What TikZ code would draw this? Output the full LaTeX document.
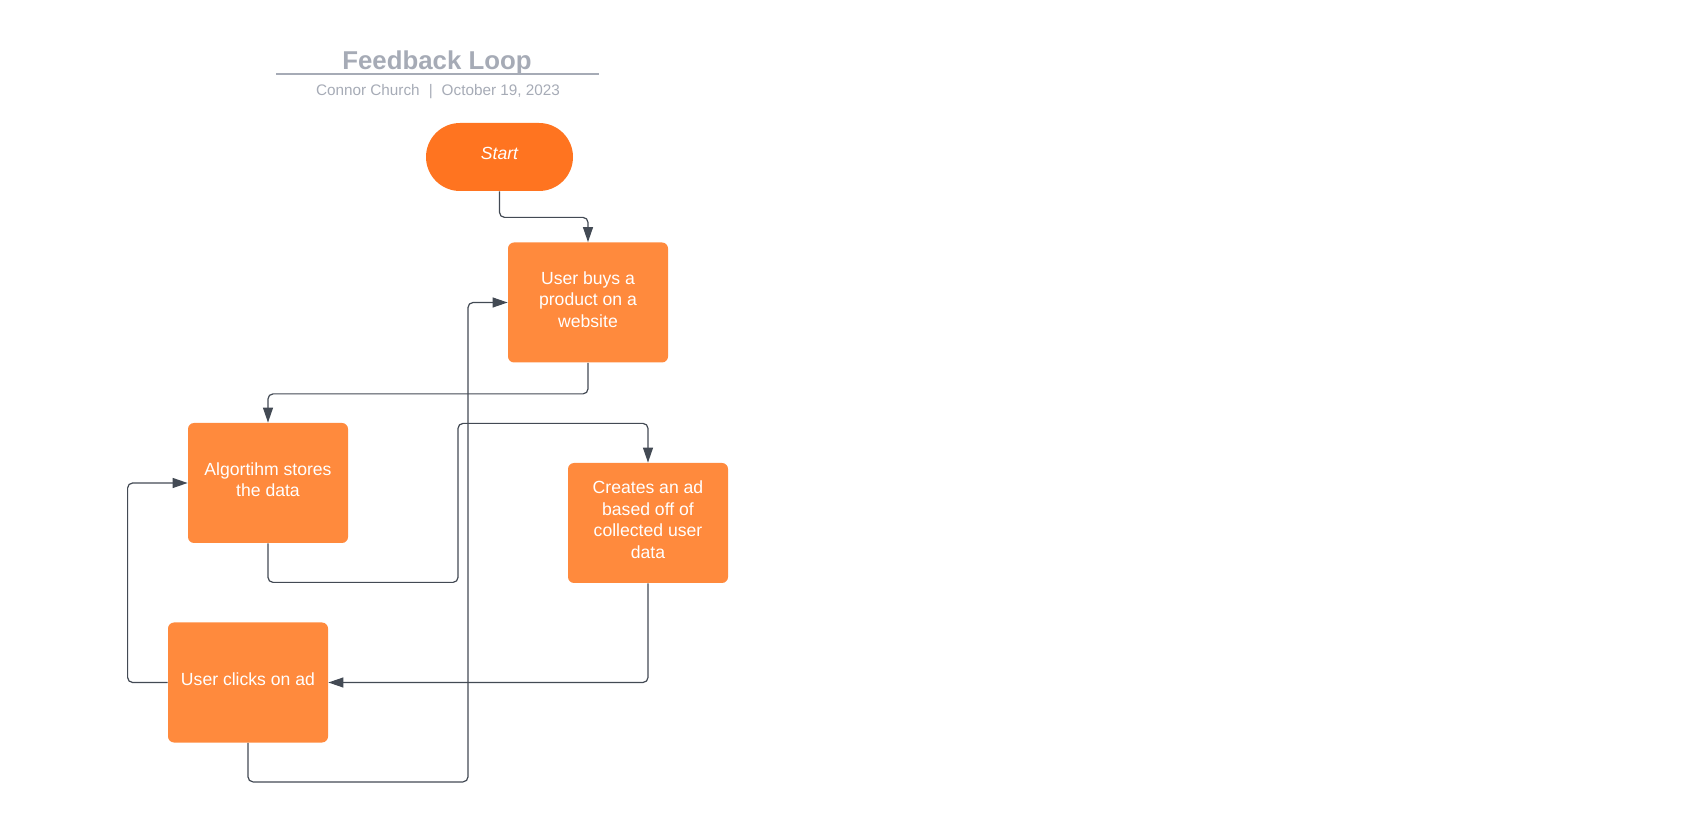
\documentclass[tikz,border=0pt]{standalone}
\usepackage{fontspec}
\setmainfont{Liberation Sans}
\usetikzlibrary{arrows.meta}
\definecolor{startorange}{HTML}{FF7420}
\definecolor{boxorange}{HTML}{FF8A3D}
\definecolor{titlegray}{HTML}{A6ABB6}
\definecolor{linegray}{HTML}{434A54}

\begin{document}
\begin{tikzpicture}[x=0.5pt,y=-0.5pt,
  lifttext/.style={execute at end node={\rule[-3.2pt]{0pt}{0pt}}},
  stepbox/.style={fill=boxorange,rounded corners=3pt,minimum width=80pt,minimum height=60pt,
    inner sep=0pt,text=white,align=center,font=\fontsize{8.8}{10.8}\selectfont,lifttext},
  pill/.style={fill=startorange,rounded corners=17pt,minimum width=73.5pt,minimum height=34pt,
    inner sep=0pt,text=white,font=\itshape\fontsize{8.8}{10.8}\selectfont,lifttext},
  flow/.style={draw=linegray,line width=0.6pt,rounded corners=2.5pt,
    -{Triangle[length=7.5pt,width=5pt]}}]
\useasboundingbox (0,0) rectangle (1688,823);

% title block
\node[anchor=base,text=titlegray,font=\bfseries\fontsize{12.9}{15}\selectfont] (title) at (437,69.3) {Feedback Loop};
\draw[titlegray,line width=1pt] (276,74) -- (599,74);
\node[anchor=base,text=titlegray,font=\fontsize{7.65}{9}\selectfont] (byline) at (438,95.7)
  {Connor Church\hspace{4.5pt}|\hspace{4.5pt}October 19, 2023};

% steps
\node[pill] (start) at (499.5,157) {Start};
\node[stepbox] (buys) at (588,302.5) {User buys a\\product on a\\website};
\node[stepbox] (algo) at (268,483) {Algortihm stores\\the data};
\node[stepbox] (creates) at (648,523) {Creates an ad\\based off of\\collected user\\data};
\node[stepbox] (clicks) at (248,682.5) {User clicks on ad};

% connectors
\draw[flow] (start.south) -- ++(0,26) -| (buys.north);
\draw[flow] (buys.south) -- ++(0,31) -| (algo.north);
\draw[flow] (algo.south) -- ++(0,39) -- ++(190,0) -- ++(0,-159) -| (creates.north);
\draw[flow] (creates.south) |- (clicks.east);
\draw[flow] (clicks.west) -- ++(-40,0) |- (algo.west);
\draw[flow] (clicks.south) -- ++(0,39) -- ++(220,0) |- (buys.west);
\end{tikzpicture}
\end{document}
